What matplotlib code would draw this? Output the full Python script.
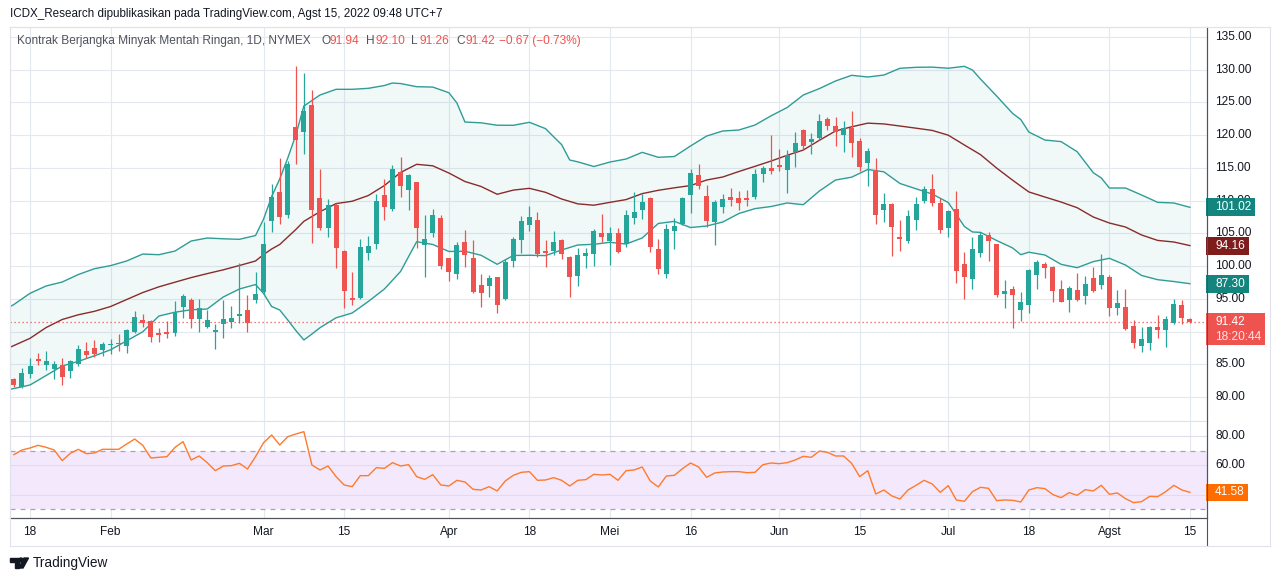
import matplotlib
matplotlib.use('Agg')
import matplotlib.pyplot as plt
import matplotlib.transforms as mtransforms
from matplotlib.patches import Rectangle, Polygon, Circle
from matplotlib.lines import Line2D

W, H, DPI = 1280, 581, 100
FONT = 'Liberation Sans'
plt.rcParams['font.family'] = [FONT, 'DejaVu Sans']

# ---------------- data (daily candles, Jan 13 2022 .. Aug 15 2022) ----------------
opens = [82.74, 81.57, 83.51, 85.85, 84.88, 84.32, 84.88, 84.02, 85.04, 87.02,
         87.48, 87.18, 87.95, 88.24, 87.84, 89.98, 91.76, 91.61, 89.77, 89.98,
         89.82, 93.80, 94.81, 91.96, 90.69, 89.95, 91.20, 91.45, 92.42, 93.29,
         94.81, 95.99, 106.94, 111.32, 107.80, 121.25, 120.54, 124.61, 110.40, 105.87,
         109.33, 102.30, 95.12, 95.12, 102.05, 103.42, 110.86, 108.77, 114.37, 111.67,
         112.85, 103.27, 105.05, 107.34, 101.23, 98.84, 103.68, 101.23, 97.11, 96.95,
         98.33, 94.97, 100.83, 103.98, 106.33, 107.04, 102.30, 102.30, 103.98, 101.44,
         98.48, 101.59, 101.85, 105.05, 103.83, 105.05, 103.37, 107.34, 108.57, 110.40,
         102.61, 98.84, 105.36, 106.38, 110.91, 113.91, 110.71, 106.73, 109.03, 110.55,
         110.40, 110.40, 110.55, 114.07, 114.99, 115.44, 114.68, 117.43, 120.79, 119.01,
         119.57, 122.47, 121.40, 120.03, 121.10, 119.11, 115.75, 114.68, 108.62, 109.49,
         104.44, 103.83, 107.04, 109.94, 111.78, 109.64, 105.82, 108.72, 100.32, 98.08,
         102.05, 104.75, 103.37, 95.79, 96.50, 93.34, 94.10, 98.69, 100.32, 99.86,
         96.50, 94.87, 96.35, 95.48, 98.18, 97.16, 98.33, 93.65, 93.75, 90.85,
         87.84, 88.30, 90.69, 90.29, 91.35, 94.05, 91.94]
highs = [82.95, 84.43, 85.95, 86.67, 87.02, 85.49, 86.00, 85.65, 87.94, 88.40,
         88.70, 88.35, 88.86, 89.57, 90.38, 93.13, 92.68, 91.70, 90.49, 91.61,
         94.66, 95.73, 95.12, 94.92, 93.29, 91.10, 94.81, 93.90, 100.42, 95.58,
         99.09, 106.68, 112.54, 116.51, 116.06, 130.57, 129.50, 126.90, 114.83, 110.25,
         109.69, 102.45, 99.10, 104.14, 104.60, 111.01, 113.36, 115.39, 116.67, 114.00,
         112.90, 107.85, 108.72, 107.75, 101.30, 103.73, 105.51, 103.99, 98.79, 98.64,
         98.40, 101.13, 104.44, 107.65, 109.18, 108.26, 103.98, 105.36, 104.14, 101.60,
         102.76, 102.76, 105.66, 107.95, 105.97, 105.82, 108.57, 111.31, 111.01, 110.50,
         104.14, 106.43, 107.34, 110.55, 114.83, 115.60, 112.39, 110.10, 111.01, 111.93,
         111.47, 111.62, 114.83, 115.29, 120.03, 117.89, 117.74, 120.49, 120.95, 120.33,
         123.24, 122.78, 122.78, 122.17, 123.70, 119.57, 118.04, 116.51, 111.17, 109.64,
         107.04, 108.57, 110.55, 112.24, 114.07, 110.40, 108.57, 111.47, 102.15, 104.44,
         105.21, 105.21, 103.40, 97.87, 96.96, 96.04, 99.55, 100.93, 100.62, 100.01,
         97.87, 96.96, 98.94, 98.48, 99.86, 101.85, 98.64, 96.35, 96.50, 91.76,
         90.69, 90.85, 92.53, 92.37, 94.97, 94.82, 92.10]
lows = [81.47, 81.37, 82.95, 84.93, 84.12, 82.80, 81.83, 82.95, 84.73, 85.90,
        86.16, 86.31, 86.51, 87.02, 86.77, 89.72, 90.74, 88.45, 88.45, 88.96,
        89.31, 92.12, 90.59, 89.98, 90.54, 87.38, 89.06, 90.59, 91.35, 89.98,
        94.41, 95.73, 105.26, 106.43, 107.30, 115.55, 117.12, 103.58, 105.51, 104.49,
        99.76, 93.54, 94.10, 94.92, 100.93, 102.56, 107.04, 108.47, 110.61, 108.57,
        102.81, 98.38, 104.49, 99.55, 97.77, 98.03, 99.91, 95.84, 93.80, 95.33,
        92.88, 94.80, 99.91, 101.95, 105.36, 101.44, 99.91, 101.69, 101.13, 95.33,
        97.00, 99.75, 100.06, 103.68, 100.21, 102.05, 102.96, 106.43, 107.19, 102.20,
        98.79, 98.23, 102.66, 106.28, 108.11, 111.82, 106.02, 103.22, 108.16, 109.23,
        108.57, 109.18, 110.25, 112.85, 114.12, 114.53, 111.17, 115.14, 117.89, 117.13,
        119.26, 120.79, 118.35, 117.43, 116.67, 114.53, 112.24, 106.43, 106.74, 101.54,
        102.31, 103.53, 105.51, 109.64, 109.18, 105.05, 104.44, 97.42, 95.02, 96.55,
        101.44, 100.83, 95.33, 93.65, 90.59, 91.66, 92.88, 96.55, 98.23, 94.56,
        94.50, 93.04, 94.72, 94.26, 96.04, 96.45, 92.42, 92.58, 90.29, 87.53,
        86.92, 87.23, 89.06, 87.69, 91.20, 91.20, 91.26]
closes = [81.83, 83.66, 84.73, 85.55, 85.49, 85.04, 83.10, 85.49, 87.33, 86.46,
          86.56, 88.09, 88.15, 88.09, 90.23, 92.17, 91.25, 89.21, 89.52, 89.67,
          93.03, 95.43, 91.96, 93.54, 91.76, 90.20, 91.86, 92.06, 92.68, 91.35,
          95.73, 103.37, 110.61, 107.55, 115.60, 119.31, 123.70, 108.62, 105.87, 109.33,
          102.81, 96.24, 94.82, 102.86, 103.07, 109.94, 109.08, 114.83, 112.28, 113.91,
          105.87, 104.08, 107.80, 100.06, 99.14, 103.22, 101.74, 96.09, 95.94, 98.18,
          94.10, 100.62, 104.14, 106.89, 107.50, 101.85, 102.05, 103.68, 101.85, 98.33,
          101.69, 102.00, 105.36, 104.44, 105.05, 102.15, 107.80, 108.26, 109.79, 102.96,
          99.60, 105.66, 106.12, 110.40, 114.22, 112.23, 106.94, 109.79, 110.25, 110.15,
          109.69, 110.10, 114.07, 114.99, 114.53, 115.14, 116.97, 118.81, 118.35, 119.42,
          122.17, 121.40, 120.49, 121.10, 118.81, 115.14, 117.58, 107.80, 109.49, 105.97,
          104.14, 107.65, 109.49, 111.78, 109.64, 105.51, 108.42, 99.28, 98.38, 102.61,
          104.75, 103.88, 95.58, 96.19, 95.58, 94.51, 99.40, 100.62, 99.76, 96.24,
          94.56, 96.65, 94.87, 97.26, 96.24, 98.64, 93.65, 94.36, 90.44, 88.30,
          88.86, 90.69, 90.29, 91.91, 94.21, 92.09, 91.42]

# Bollinger bands as drawn (bar position, level)
bb_upper_x = [-0.5, 0, 2, 4, 6, 8, 10, 12, 14, 16, 18, 20, 22, 24, 26, 28, 30, 31, 32, 33, 34, 35, 36,
              38, 40, 42, 44, 46, 47, 48, 50, 52, 54, 55, 56, 58, 60, 62, 64, 66, 67, 68, 69, 70,
              72, 74, 76, 78, 80, 82, 84, 86, 88, 90, 92, 94, 96, 98, 100, 102, 104, 106, 108,
              110, 112, 114, 116, 118, 119, 120, 122, 124, 125, 126, 128, 130, 132, 134, 135,
              136, 138, 140, 142, 144, 146]
bb_upper = [93.79, 94.13, 95.84, 96.96, 97.57, 98.71, 99.60, 100.07, 100.78, 101.84, 101.74, 102.30,
            103.83, 104.29, 104.17, 104.09, 104.67, 107.19, 110.63, 113.30, 116.51, 120.03, 124.46,
            126.14, 127.01, 127.01, 127.16, 127.59, 127.97, 127.89, 127.41, 127.35, 126.49, 124.92,
            122.01, 121.89, 121.52, 121.51, 121.97, 121.00, 119.77, 118.56, 116.21, 115.93,
            115.21, 115.90, 116.36, 117.38, 116.62, 116.74, 118.35, 119.87, 120.64, 120.79,
            121.55, 122.96, 124.23, 126.14, 127.12, 128.28, 129.15, 128.89, 129.19,
            130.22, 130.37, 130.40, 130.23, 130.52, 129.96, 128.58, 125.99, 123.31, 122.39,
            120.49, 119.26, 119.02, 117.48, 114.27, 113.46, 111.93, 111.93, 110.86, 109.74,
            109.64, 108.98]
bb_mid_x = [-0.5, 0, 2, 4, 6, 8, 10, 12, 14, 16, 18, 20, 22, 24, 26, 28, 30, 31, 32, 33, 34, 35, 36,
            38, 40, 42, 44, 46, 48, 50, 52, 54, 56, 58, 60, 62, 64, 66, 68, 70, 72, 74, 76, 78,
            80, 82, 84, 86, 88, 90, 92, 94, 96, 98, 100, 102, 104, 106, 108, 110, 112, 114, 116,
            118, 120, 122, 124, 126, 128, 130, 132, 134, 136, 138, 140, 142, 144, 146]
bb_mid = [87.59, 87.86, 88.96, 90.61, 91.84, 92.56, 93.09, 93.82, 94.89, 95.96, 96.83, 97.54,
          98.24, 98.85, 99.43, 100.09, 100.78, 101.77, 102.61, 103.30, 104.44, 105.59, 106.84,
          108.31, 109.55, 109.91, 110.78, 112.31, 114.30, 115.55, 115.32, 114.22, 112.92, 112.16,
          110.97, 111.61, 111.88, 111.27, 110.25, 109.51, 109.30, 109.74, 110.16, 111.07,
          111.58, 111.96, 112.30, 113.15, 113.61, 114.45, 115.24, 116.05, 116.93, 117.73,
          119.22, 120.64, 121.28, 121.84, 121.72, 121.40, 121.07, 120.73, 120.00,
          118.50, 117.03, 114.98, 113.11, 111.33, 110.55, 109.79, 108.92, 107.50, 106.58,
          105.97, 104.75, 103.92, 103.68, 103.13]
bb_lower_x = [-0.5, 0, 2, 4, 6, 8, 10, 12, 14, 16, 18, 20, 22, 24, 26, 28, 30, 31, 32, 33, 34, 35, 36,
              37, 38, 40, 42, 44, 46, 48, 50, 52, 54, 56, 58, 60, 62, 64, 66, 68, 70, 72, 74, 76,
              78, 80, 82, 84, 86, 88, 90, 92, 94, 96, 98, 100, 102, 104, 106, 108, 110, 112, 114,
              116, 118, 119, 120, 122, 124, 125, 126, 128, 130, 132, 134, 136, 138, 140, 142, 144, 146]
bb_lower = [81.17, 81.29, 81.83, 83.28, 84.73, 85.44, 86.29, 87.21, 88.58, 89.96, 92.37, 92.95,
            93.32, 93.44, 95.28, 96.50, 97.18, 95.81, 93.82, 93.29, 91.76, 90.16, 88.71,
            89.62, 90.58, 92.10, 92.83, 94.59, 96.50, 99.17, 103.72, 103.30, 102.23, 102.26,
            101.65, 100.27, 101.62, 101.65, 101.60, 102.46, 103.22, 103.33, 103.63, 103.37,
            104.29, 106.51, 106.83, 105.89, 106.12, 106.73, 108.03, 108.78, 109.10, 109.64,
            109.38, 111.47, 113.15, 113.58, 114.76, 114.40, 112.62, 111.81, 111.01,
            109.71, 106.05, 105.21, 105.15, 103.91, 102.76, 101.74, 102.12, 101.69, 100.27,
            99.75, 100.68, 101.19, 100.16, 98.56, 97.92, 97.64, 97.31]

rsi = [67.27, 70.45, 71.82, 73.64, 72.27, 70.45, 63.18, 68.18, 70.91, 67.95,
       68.41, 70.91, 70.91, 70.91, 74.55, 77.95, 73.64, 65.00, 65.45, 65.91,
       72.27, 76.14, 63.64, 66.36, 61.82, 56.36, 59.55, 59.77, 61.36, 57.50,
       65.91, 75.45, 80.68, 73.86, 79.55, 81.36, 82.95, 60.23, 56.82, 59.55,
       52.27, 46.59, 45.45, 52.95, 52.95, 58.41, 57.95, 61.82, 59.55, 60.45,
       52.27, 50.45, 53.64, 46.59, 45.91, 49.77, 48.64, 43.64, 43.18, 45.45,
       42.50, 49.32, 53.18, 55.23, 55.68, 49.77, 50.00, 51.59, 49.77, 45.91,
       49.77, 50.23, 53.86, 53.41, 53.86, 49.77,
       56.36, 56.82, 58.86, 49.32, 45.23, 52.73, 53.18, 57.73, 61.59, 58.86,
       51.82, 54.77, 55.45, 55.68, 55.68, 55.00,
       55.23, 60.45, 61.59, 61.14, 61.82, 63.64, 66.14, 65.45, 69.77, 68.86,
       66.36, 66.36, 61.36, 52.27, 56.36, 40.45,
       43.18, 39.09, 37.05, 43.18, 46.36, 49.77, 47.27, 41.59, 46.14, 36.36,
       35.45, 42.05, 45.00, 44.32, 35.91, 36.36, 36.14, 35.00, 43.18, 44.77,
       44.09, 40.00, 37.95, 41.36, 39.55, 43.41, 42.50, 46.36, 40.23, 41.14,
       37.27, 34.55, 35.23, 38.86, 38.64, 42.05, 46.36, 43.18, 41.58]

time_tick_pos = [2, 12, 31, 41, 54, 64, 74, 84, 95, 105, 116, 126, 136, 146]
time_tick_labels = ['18', 'Feb', 'Mar', '15', 'Apr', '18', 'Mei', '16', 'Jun', '15', 'Jul', '18', 'Agst', '15']
price_ticks = [80, 85, 90, 95, 100, 105, 110, 115, 120, 125, 130, 135]
rsi_ticks = [80, 60]

band_labels = ['101.02', '94.16', '87.30']
rsi_last_label = '41.58'
countdown = '18:20:44'
header = 'ICDX_Research dipublikasikan pada TradingView.com, Agst 15, 2022 09:48 UTC+7'
title = 'Kontrak Berjangka Minyak Mentah Ringan, 1D, NYMEX'
ohlc_legend = [('O', '91.94'), ('H', '92.10'), ('L', '91.26'), ('C', '91.42')]
change_legend = '\u22120.67 (\u22120.73%)'

# ---------------- style ----------------
UP, DOWN = '#26a69a', '#ef5350'
BAND = '#2f9c96'
MID = '#8a2b2b'
GRID = '#e4e8ef'
TXT = '#131722'
AXISLINE = '#50535e'
FS = 8.6

fig = plt.figure(figsize=(W / DPI, H / DPI), dpi=DPI)
fig.patch.set_facecolor('white')


def px_axes(l, t, r, b):
    return fig.add_axes([l / W, 1 - b / H, (r - l) / W, (b - t) / H])


ax = px_axes(10, 27, 1207, 421)
ar = px_axes(10, 421, 1207, 518)
XL = (-0.484, 148.12)

for a in (ax, ar):
    a.set_xlim(*XL)
    a.set_xticks([])
    a.set_yticks([])
    for s in a.spines.values():
        s.set_color('#e0e3eb')
        s.set_linewidth(0.8)
    a.spines['right'].set_color(AXISLINE)
    for p in time_tick_pos:
        a.axvline(p, color=GRID, lw=0.8, zorder=0)

ax.set_ylim(76.33, 136.53)
ar.set_ylim(24.07, 90.23)
ar.spines['bottom'].set_color(AXISLINE)

for v in price_ticks:
    ax.axhline(v, color=GRID, lw=0.8, zorder=0)
for v in (80, 60, 40):
    ar.axhline(v, color='#e2dcea', lw=0.8, zorder=0.5)

# Bollinger bands
poly = list(zip(bb_upper_x, bb_upper)) + list(zip(bb_lower_x[::-1], bb_lower[::-1]))
ax.add_patch(Polygon(poly, closed=True, facecolor='#26a69a', alpha=0.065, edgecolor='none', zorder=1))
ax.plot(bb_upper_x, bb_upper, color=BAND, lw=1.0, zorder=2)
ax.plot(bb_lower_x, bb_lower, color=BAND, lw=1.0, zorder=2)
ax.plot(bb_mid_x, bb_mid, color=MID, lw=1.0, zorder=2)

# candles
xs = list(range(len(closes)))
cols = [UP if c >= o else DOWN for o, c in zip(opens, closes)]
ax.vlines(xs, lows, highs, colors=cols, lw=0.9, zorder=3)
bottoms = [min(o, c) for o, c in zip(opens, closes)]
heights = [max(abs(c - o), 0.16) for o, c in zip(opens, closes)]
ax.bar(xs, heights, bottom=bottoms, width=0.62, color=cols, edgecolor='none', zorder=4)

# last price dotted line
ax.axhline(closes[-1], color=DOWN, lw=0.9, ls=(0, (1, 2.2)), zorder=2.5)

# RSI
ar.axhspan(30, 70, color='#f4e8fc', lw=0, zorder=0.2)
ar.axhline(70, color='#a9a3b3', lw=0.9, ls=(0, (4, 4)), zorder=1)
ar.axhline(30, color='#a9a3b3', lw=0.9, ls=(0, (4, 4)), zorder=1)
ar.plot(xs, rsi, color='#ff7b2b', lw=1.0, zorder=3)

ppu = 6.545  # pixels per price unit
red_top = closes[-1] + 9 / ppu
red_bot = closes[-1] - 23 / ppu

# price axis labels (the one fully covered by the last-price box is not visible)
ytr = ax.get_yaxis_transform()
for v in price_ticks:
    if red_bot < v < red_top:
        continue
    ax.text(1.0067, v, f'{v:.2f}', transform=ytr, va='center', ha='left', fontsize=FS,
            color=TXT, clip_on=False, zorder=5)
rtr = ar.get_yaxis_transform()
for v in rsi_ticks:
    ar.text(1.0067, v, f'{v:.2f}', transform=rtr, va='center', ha='left', fontsize=FS,
            color=TXT, clip_on=False, zorder=5)


def value_box(axis, tr, y, hgt, x1, color, txt, fs=FS):
    axis.add_patch(Rectangle((0.9992, y - hgt / 2), x1 - 0.9992, hgt, transform=tr,
                             facecolor=color, edgecolor='none', clip_on=False, zorder=10))
    axis.text(1.0067, y, txt, transform=tr, va='center', ha='left', fontsize=fs,
              color='white', clip_on=False, zorder=11)


value_box(ax, ytr, bb_upper[-1], 18 / ppu, 1.0401, '#14857e', band_labels[0])
value_box(ax, ytr, bb_mid[-1], 18 / ppu, 1.0352, '#7f1d1d', band_labels[1])
value_box(ax, ytr, bb_lower[-1], 18 / ppu, 1.0352, '#14857e', band_labels[2])
# last price box (two lines)
ax.add_patch(Rectangle((0.9992, red_bot), 1.0484 - 0.9992, red_top - red_bot, transform=ytr,
                       facecolor=DOWN, edgecolor='none', clip_on=False, zorder=10))
ax.text(1.0067, closes[-1], f'{closes[-1]:.2f}', transform=ytr, va='center', ha='left',
        fontsize=FS, color='white', clip_on=False, zorder=11)
ax.text(1.0067, closes[-1] - 15 / ppu, countdown, transform=ytr, va='center', ha='left',
        fontsize=FS, color='#ffe4e4', clip_on=False, zorder=11)
value_box(ar, rtr, rsi[-1], 17 / 1.466, 1.0343, '#ff6d00', rsi_last_label)

# time axis labels
ttr = mtransforms.blended_transform_factory(ar.transData, fig.transFigure)
for p, lab in zip(time_tick_pos, time_tick_labels):
    ar.text(p, 1 - 532 / H, lab, transform=ttr, ha='center', va='center', fontsize=FS,
            color=TXT, clip_on=False)


# frame lines in figure pixels
def fig_line(x0, y0, x1, y1, color, lw=0.8):
    fig.add_artist(Line2D([x0 / W, x1 / W], [1 - y0 / H, 1 - y1 / H], transform=fig.transFigure,
                          color=color, lw=lw))


fig_line(1207, 27, 1207, 545, AXISLINE)
fig_line(10, 518, 1207, 518, AXISLINE)
fig_line(10, 545.5, 1270, 545.5, '#e0e3eb')
fig_line(10, 27, 1270, 27, '#e0e3eb')
fig_line(1270, 27, 1270, 545.5, '#e0e3eb')
fig_line(10, 27, 10, 545.5, '#e0e3eb')

# header and legend
fig.text(10 / W, 1 - 14 / H, header, ha='left', va='center', fontsize=8.4, color=TXT)
fig.text(17 / W, 1 - 41 / H, title, ha='left', va='center', fontsize=8.55, color='#50535e')
leg_x = [321, 366, 411, 456]
for (k, v), x0 in zip(ohlc_legend, leg_x):
    fig.text(x0 / W, 1 - 41 / H, k, ha='left', va='center', fontsize=8.55, color='#50535e')
    fig.text((x0 + 9) / W, 1 - 41 / H, v, ha='left', va='center', fontsize=8.55, color=DOWN)
fig.text(499 / W, 1 - 41 / H, change_legend, ha='left', va='center', fontsize=8.55, color=DOWN)

# TradingView logo + wordmark
pxt = mtransforms.Affine2D().scale(1 / W, -1 / H).translate(0, 1) + fig.transFigure
fig.add_artist(Polygon([(10, 558), (18.5, 558), (18.5, 568), (14.5, 568), (14.5, 562), (10, 562)],
                       closed=True, transform=pxt, color=TXT))
fig.add_artist(Circle((21, 560), 2.0, transform=pxt, color=TXT))
fig.add_artist(Polygon([(24, 558), (28.5, 558), (23, 568), (18.8, 568)], closed=True,
                       transform=pxt, color=TXT))
fig.text(33 / W, 1 - 563 / H, 'TradingView', ha='left', va='center', fontsize=9.8, color=TXT)

fig.savefig('out.png', dpi=DPI, facecolor='white')
